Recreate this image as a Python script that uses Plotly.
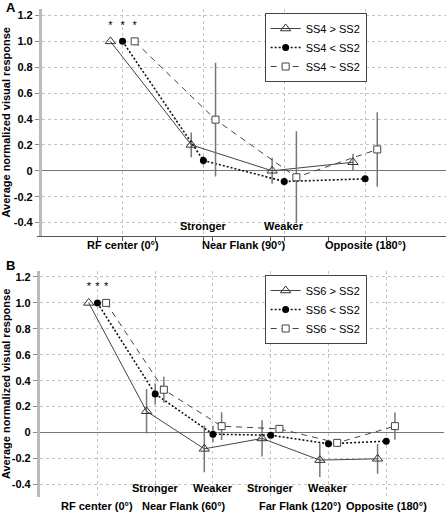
import plotly.graph_objects as go

# ---------------- data ----------------
# Panel A
a_positions = [1, 2, 3, 4]
a_strength_labels = ["", "Stronger", "Weaker", ""]
a_cat_labels = ["RF center (0°)", "Near Flank (90°)", "Opposite (180°)"]
a_cat_pos = [1, 2.5, 4]
a_names = ["SS4 > SS2", "SS4 < SS2", "SS4 ~ SS2"]
a_tri = [1.0, 0.20, 0.0, 0.066]
a_tri_err = [0.0, 0.095, 0.10, 0.065]
a_circ = [1.0, 0.08, -0.083, -0.062]
a_circ_err = [0.0, 0.035, 0.03, 0.0]
a_sq = [1.0, 0.395, -0.05, 0.165]
a_sq_err = [0.0, 0.44, 0.355, 0.288]

# Panel B
b_positions = [1, 2, 3, 4, 5, 6]
b_strength_labels = ["", "Stronger", "Weaker", "Stronger", "Weaker", ""]
b_cat_labels = ["RF center (0°)", "Near Flank (60°)", "Far Flank (120°)", "Opposite (180°)"]
b_cat_pos = [1, 2.5, 4.5, 6]
b_names = ["SS6 > SS2", "SS6 < SS2", "SS6 ~ SS2"]
b_tri = [1.0, 0.164, -0.126, -0.046, -0.213, -0.203]
b_tri_err = [0.0, 0.172, 0.18, 0.14, 0.13, 0.115]
b_circ = [1.0, 0.298, -0.013, -0.021, -0.087, -0.067]
b_circ_err = [0.0, 0.081, 0.065, 0.02, 0.02, 0.0]
b_sq = [1.0, 0.33, 0.049, 0.028, -0.08, 0.049]
b_sq_err = [0.0, 0.10, 0.107, 0.03, 0.015, 0.105]

star_text = "*"
star_level = 1.12
y_ticks = [-0.4, -0.2, 0, 0.2, 0.4, 0.6, 0.8, 1.0, 1.2]
y_ticktext = ["-0.4", "-0.2", "0", "0.2", "0.4", "0.6", "0.8", "1.0", "1.2"]
y_title = "Average normalized visual response"

OFFSET = 0.15
FONT = "Liberation Sans, Arial, sans-serif"
W, H = 446, 512

fig = go.Figure()


def add_panel(xa, ya, legend, positions, names, tri, tri_e, circ, circ_e, sq, sq_e):
    styles = [
        (tri, tri_e, -OFFSET, dict(symbol="triangle-up-open", size=9, color="#333", line=dict(width=1, color="#333")),
         dict(color="#444", width=1, dash="solid")),
        (circ, circ_e, 0.0, dict(symbol="circle", size=7, color="black"),
         dict(color="#111", width=1.6, dash="2px,2px")),
        (sq, sq_e, OFFSET, dict(symbol="square", size=7, color="white", line=dict(width=1, color="#444")),
         dict(color="#444", width=1, dash="6px,5px")),
    ]
    for name, (vals, errs, off, marker, line) in zip(names, styles):
        xs = [p + off for p in positions]
        fig.add_trace(go.Scatter(
            x=xs, y=vals, name=name, mode="lines+markers",
            marker=marker, line=line,
            error_y=dict(type="data", array=errs, visible=True, color="#777", thickness=1.5, width=0),
            xaxis=xa, yaxis=ya, legend=legend, cliponaxis=False,
        ))
    # significance stars above the RF-center points
    fig.add_trace(go.Scatter(
        x=[positions[0] - OFFSET, positions[0], positions[0] + OFFSET],
        y=[star_level] * 3, mode="text", text=[star_text] * 3,
        textfont=dict(family=FONT, size=11, color="black"),
        showlegend=False, xaxis=xa, yaxis=ya, hoverinfo="skip",
    ))


add_panel("x", "y", "legend", a_positions, a_names, a_tri, a_tri_err, a_circ, a_circ_err, a_sq, a_sq_err)
add_panel("x2", "y2", "legend2", b_positions, b_names, b_tri, b_tri_err, b_circ, b_circ_err, b_sq, b_sq_err)

tickfont = dict(family=FONT, size=11, color="black", weight="bold")


def xaxis_cfg(domain, rng, tickvals):
    return dict(domain=domain, range=rng, tickvals=tickvals, showticklabels=False,
                ticks="outside", ticklen=4, tickcolor="#555", tickwidth=1,
                showline=True, linecolor="#555", linewidth=1,
                showgrid=True, gridcolor="#c4c4c4", griddash="dot", gridwidth=1,
                zeroline=False, fixedrange=True)


def yaxis_cfg(domain, anchor):
    return dict(domain=domain, range=[-0.5, 1.25], tickvals=y_ticks, ticktext=y_ticktext,
                tickfont=tickfont, ticks="outside", ticklen=4, tickcolor="#888",
                showline=True, linecolor="#bbb", linewidth=2.5,
                showgrid=True, gridcolor="#c4c4c4", griddash="dot", gridwidth=1,
                zeroline=True, zerolinecolor="#777", zerolinewidth=1,
                title=dict(text=y_title, font=dict(family=FONT, size=11, color="black", weight="bold"), standoff=4),
                anchor=anchor, fixedrange=True)


legend_style = dict(xanchor="left", yanchor="top", bgcolor="white", bordercolor="#444", borderwidth=1,
                    font=dict(family=FONT, size=11), itemwidth=30, tracegroupgap=0)

fig.update_layout(
    width=W, height=H, margin=dict(l=0, r=0, t=0, b=0),
    paper_bgcolor="white", plot_bgcolor="white",
    font=dict(family=FONT, size=11, color="black"),
    xaxis=xaxis_cfg([38 / W, 1.0], [0, 5], a_positions),
    yaxis=yaxis_cfg([1 - 235.5 / H, 1 - 9 / H], "x"),
    xaxis2=xaxis_cfg([36 / W, 444 / W], [0, 7], b_positions),
    yaxis2=yaxis_cfg([1 - 497.3 / H, 1 - 270.5 / H], "x2"),
    legend=dict(x=263 / W, y=1 - 13 / H, **legend_style),
    legend2=dict(x=263 / W, y=1 - 275 / H, **legend_style),
    showlegend=True,
)

annotations = []
for xa, ya, positions, strength, cat_labels, cat_pos in [
    ("x", "y", a_positions, a_strength_labels, a_cat_labels, a_cat_pos),
    ("x2", "y2", b_positions, b_strength_labels, b_cat_labels, b_cat_pos),
]:
    for p, s in zip(positions, strength):
        if s:
            annotations.append(dict(x=p, y=-0.43, xref=xa, yref=ya, text=s, showarrow=False,
                                    xanchor="center", yanchor="middle",
                                    font=dict(family=FONT, size=11, color="black", weight="bold")))
    for p, c in zip(cat_pos, cat_labels):
        annotations.append(dict(x=p, y=0, xref=xa, yref=ya + " domain", text=c, showarrow=False,
                                xanchor="center", yanchor="middle", yshift=-9,
                                font=dict(family=FONT, size=11, color="black", weight="bold")))

annotations.append(dict(x=0, y=1, xref="paper", yref="paper", text="A", showarrow=False,
                        xanchor="left", yanchor="top", yshift=2,
                        font=dict(family=FONT, size=13, color="black", weight="bold")))
annotations.append(dict(x=0, y=1 - 256 / H, xref="paper", yref="paper", text="B", showarrow=False,
                        xanchor="left", yanchor="top",
                        font=dict(family=FONT, size=13, color="black", weight="bold")))
fig.update_layout(annotations=annotations)

fig.write_html("out.html",
               config={"displayModeBar": False},
               post_script="document.body.style.margin='0';document.body.style.padding='0';")
